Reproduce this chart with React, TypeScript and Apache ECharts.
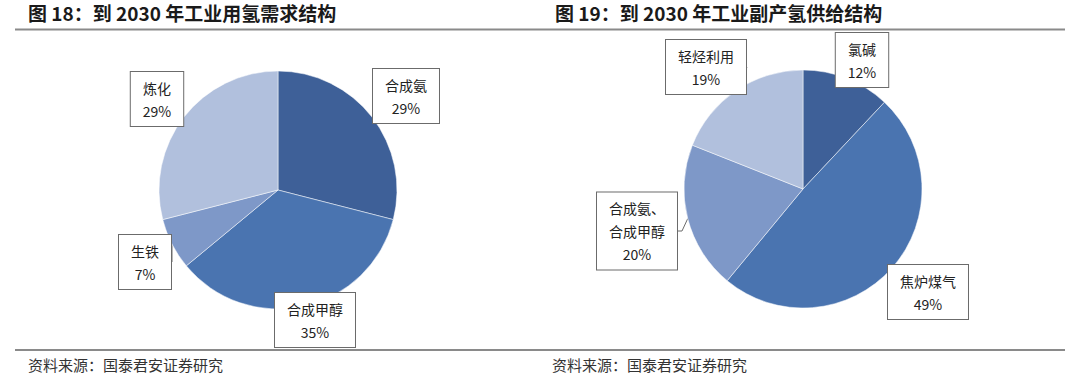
import React, { useEffect, useRef } from "react";
import * as echarts from "echarts";

const demandNames = ["合成氨", "合成甲醇", "生铁", "炼化"];
const demandValues = [29, 35, 7, 29];
const supplyNames = ["氯碱", "焦炉煤气", "合成氨、\n合成甲醇", "轻烃利用"];
const supplyValues = [12, 49, 20, 19];

const titleLeft = "图 18：到 2030 年工业用氢需求结构";
const titleRight = "图 19：到 2030 年工业副产氢供给结构";
const sourceText = "资料来源：国泰君安证券研究";

const sliceColors = ["#3E6098", "#4A74B0", "#7E98C8", "#B1C0DD"];

// label box centres and callout visibility (layout only)
const demandLabelPos = [
  [406, 96],
  [315, 320],
  [145, 262],
  [157, 99],
];
const demandCallout = [false, false, true, false];
const supplyLabelPos = [
  [862, 60],
  [928, 292],
  [637, 231],
  [706, 67],
];
const supplyCallout = [false, false, true, true];

const FONT = '"Noto Sans CJK SC", "Noto Sans", sans-serif';

export default function App() {
  const ref = useRef<HTMLDivElement>(null);
  useEffect(() => {
    document.body.style.margin = "0";
    if (!ref.current) return;
    const chart = echarts.init(ref.current, undefined, { renderer: "svg" });
    const labelStyle = {
      show: true,
      formatter: (p: any) => `${p.name}\n${p.value}%`,
      fontFamily: FONT,
      fontSize: 14,
      lineHeight: 23,
      color: "#222",
      backgroundColor: "#fff",
      borderColor: "#6b6b6b",
      borderWidth: 1,
      padding: [4, 12],
      align: "center",
    };
    const mkSeries = (
      names: string[],
      values: number[],
      center: number[],
      pos: number[][],
      callout: boolean[]
    ) => ({
      type: "pie",
      center,
      radius: 119,
      startAngle: 90,
      clockwise: true,
      silent: true,
      data: names.map((n, i) => ({
        name: n,
        value: values[i],
        itemStyle: { color: sliceColors[i] },
        labelLine: { show: callout[i] },
      })),
      itemStyle: { borderColor: "rgba(255,255,255,0.5)", borderWidth: 1 },
      label: labelStyle,
      labelLine: { show: true, length: 4, length2: 4, lineStyle: { color: "#6b6b6b", width: 1 } },
      labelLayout: (params: any) => ({
        x: pos[params.dataIndex][0],
        y: pos[params.dataIndex][1],
        align: "center",
        verticalAlign: "middle",
      }),
    });
    chart.setOption({
      animation: false,
      backgroundColor: "#fff",
      graphic: [
        { type: "text", left: 28, top: 3, style: { text: titleLeft, font: `bold 19px ${FONT}`, fill: "#1a1a1a" } },
        { type: "text", left: 555, top: 3, style: { text: titleRight, font: `bold 19px ${FONT}`, fill: "#1a1a1a" } },
        { type: "line", shape: { x1: 15, y1: 29.5, x2: 1065, y2: 29.5 }, style: { stroke: "#8a8a8a", lineWidth: 2 } },
        { type: "line", shape: { x1: 15, y1: 350, x2: 1065, y2: 350 }, style: { stroke: "#8a8a8a", lineWidth: 2 } },
        { type: "text", left: 28, top: 357, style: { text: sourceText, font: `15px ${FONT}`, fill: "#333" } },
        { type: "text", left: 552, top: 357, style: { text: sourceText, font: `15px ${FONT}`, fill: "#333" } },
      ],
      series: [
        mkSeries(demandNames, demandValues, [278, 190], demandLabelPos, demandCallout),
        mkSeries(supplyNames, supplyValues, [803, 189], supplyLabelPos, supplyCallout),
      ],
    });
    return () => chart.dispose();
  }, []);
  return <div ref={ref} style={{ width: 1080, height: 380 }} />;
}
